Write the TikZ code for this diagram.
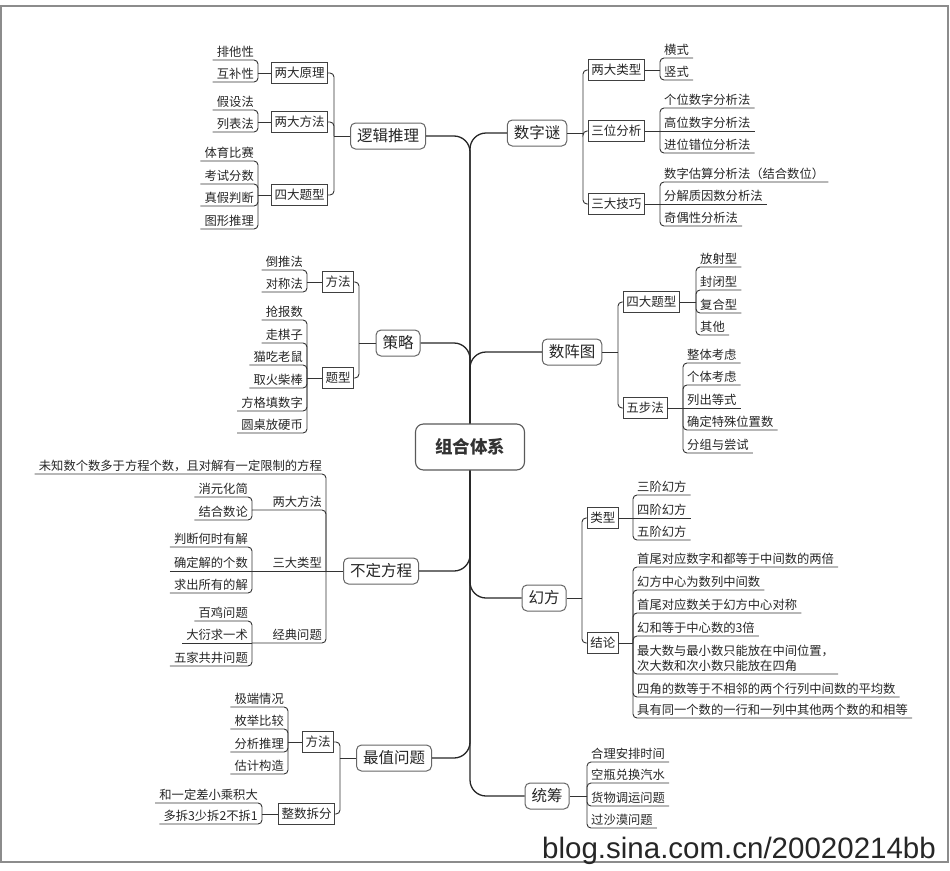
\documentclass[tikz,border=0pt]{standalone}
\usepackage{fontspec}
\setmainfont{Noto Sans CJK SC}
\newfontfamily\wmfont{Liberation Sans}
\newcommand\lffont{\fontsize{12.3}{14.5}\selectfont}
\newcommand\sbfont{\fontsize{12.5}{14}\selectfont}
\newcommand\mnfont{\fontsize{15.5}{18}\selectfont}
\newcommand\rtfont{\fontsize{17.5}{20}\selectfont\bfseries}
\begin{document}
\begin{tikzpicture}[x=1pt,y=-1pt,
  ln/.style={draw=black!80, line width=0.9pt, rounded corners=4pt},
  spn/.style={draw=black!85, line width=1.3pt, rounded corners=16pt},
  mainbox/.style={draw=black!60, line width=1pt, rounded corners=5pt, fill=white, font=\mnfont, text=black!85, minimum height=26pt, inner xsep=6.5pt, inner ysep=0pt},
  rootbox/.style={draw=black!65, line width=1.1pt, rounded corners=8pt, fill=white, font=\rtfont, text=black!80, minimum height=46pt, minimum width=109pt},
  subbox/.style={draw=black!75, line width=0.8pt, fill=white, font=\sbfont, text=black!85, minimum height=21pt, inner xsep=3pt, inner ysep=0pt},
  lfbase/.style={font=\lffont, text=black!85, inner xsep=4pt, inner ysep=2.3pt},
  lfL/.style={lfbase, anchor=south east, text height=9.5pt, text depth=1pt},
  lfR/.style={lfbase, anchor=south west, text height=9.5pt, text depth=1pt},
  lfRm/.style={lfbase, anchor=south west, align=left}
]
\useasboundingbox (0,0) rectangle (950,870);
\draw[black!45, line width=1.2pt] (1,6) rectangle (948,862);

% ---------- nodes ----------
\node[rootbox] (root) at (470,447) {组合体系};

% 逻辑推理
\node[mainbox] (lj) at (388,136) {逻辑推理};
\coordinate (ljJ) at (334,136);
\node[subbox, anchor=east] (lj1) at (328,73) {两大原理};
\node[subbox, anchor=east] (lj2) at (328,122) {两大方法};
\node[subbox, anchor=east] (lj3) at (328,195) {四大题型};
\coordinate (lj1J) at (258,73);
\node[lfL] (lj1a) at (258,60) {排他性};
\node[lfL] (lj1b) at (258,82) {互补性};
\coordinate (lj2J) at (258,122);
\node[lfL] (lj2a) at (258,110) {假设法};
\node[lfL] (lj2b) at (258,132) {列表法};
\coordinate (lj3J) at (258,195);
\node[lfL] (lj3a) at (258,161) {体育比赛};
\node[lfL] (lj3b) at (258,184) {考试分数};
\node[lfL] (lj3c) at (258,206) {真假判断};
\node[lfL] (lj3d) at (258,229) {图形推理};

% 数字谜
\node[mainbox] (sz) at (537,133) {数字谜};
\coordinate (szJ) at (583,133);
\node[subbox, anchor=west] (sz1) at (588,70) {两大类型};
\node[subbox, anchor=west] (sz2) at (588,131) {三位分析};
\node[subbox, anchor=west] (sz3) at (588,204) {三大技巧};
\coordinate (sz1J) at (660,70);
\node[lfR] (sz1a) at (660,58) {横式};
\node[lfR] (sz1b) at (660,80) {竖式};
\coordinate (sz2J) at (660,131);
\node[lfR] (sz2a) at (660,108) {个位数字分析法};
\node[lfR] (sz2b) at (660,131) {高位数字分析法};
\node[lfR] (sz2c) at (660,153) {进位错位分析法};
\coordinate (sz3J) at (660,204);
\node[lfR] (sz3a) at (660,182) {数字估算分析法（结合数位）};
\node[lfR] (sz3b) at (660,204) {分解质因数分析法};
\node[lfR] (sz3c) at (660,226) {奇偶性分析法};

% 策略
\node[mainbox] (cl) at (398,343) {策略};
\coordinate (clJ) at (359,343);
\node[subbox, anchor=east] (cl1) at (354,282) {方法};
\node[subbox, anchor=east] (cl2) at (354,378) {题型};
\coordinate (cl1J) at (307,282);
\node[lfL] (cl1a) at (307,270) {倒推法};
\node[lfL] (cl1b) at (307,292) {对称法};
\coordinate (cl2J) at (307,378);
\node[lfL] (cl2a) at (307,320) {抢报数};
\node[lfL] (cl2b) at (307,343) {走棋子};
\node[lfL] (cl2c) at (307,365) {猫吃老鼠};
\node[lfL] (cl2d) at (307,388) {取火柴棒};
\node[lfL] (cl2e) at (307,411) {方格填数字};
\node[lfL] (cl2f) at (307,433) {圆桌放硬币};

% 数阵图
\node[mainbox] (zt) at (572,352) {数阵图};
\coordinate (ztJ) at (618,352);
\node[subbox, anchor=west] (zt1) at (623,302) {四大题型};
\node[subbox, anchor=west] (zt2) at (623,408) {五步法};
\coordinate (zt1J) at (696,302);
\node[lfR] (zt1a) at (696,267) {放射型};
\node[lfR] (zt1b) at (696,290) {封闭型};
\node[lfR] (zt1c) at (696,313) {复合型};
\node[lfR] (zt1d) at (696,335) {其他};
\coordinate (zt2J) at (683,408);
\node[lfR] (zt2a) at (683,363) {整体考虑};
\node[lfR] (zt2b) at (683,385) {个体考虑};
\node[lfR] (zt2c) at (683,408) {列出等式};
\node[lfR] (zt2d) at (683,430) {确定特殊位置数};
\node[lfR] (zt2e) at (683,453) {分组与尝试};

% 不定方程
\node[mainbox] (bd) at (381,571) {不定方程};
\coordinate (bdJ) at (326,571);
\node[lfL] (bd0) at (326,474) {未知数个数多于方程个数，且对解有一定限制的方程};
\node[lfL] (bd1) at (326,510) {两大方法};
\node[lfL] (bd2) at (326,571) {三大类型};
\node[lfL] (bd3) at (326,643) {经典问题};
\coordinate (bd1J) at (252,510);
\node[lfL] (bd1a) at (252,497) {消元化简};
\node[lfL] (bd1b) at (252,520) {结合数论};
\coordinate (bd2J) at (252,571);
\node[lfL] (bd2a) at (252,547) {判断何时有解};
\node[lfL] (bd2b) at (252,571) {确定解的个数};
\node[lfL] (bd2c) at (252,593) {求出所有的解};
\coordinate (bd3J) at (252,643);
\node[lfL] (bd3a) at (252,621) {百鸡问题};
\node[lfL] (bd3b) at (252,643) {大衍求一术};
\node[lfL] (bd3c) at (252,666) {五家共井问题};

% 幻方
\node[mainbox] (hf) at (544,598) {幻方};
\coordinate (hfJ) at (582,598);
\node[subbox, anchor=west] (hf1) at (587,518) {类型};
\node[subbox, anchor=west] (hf2) at (587,643) {结论};
\coordinate (hf1J) at (633,518);
\node[lfR] (hf1a) at (633,495) {三阶幻方};
\node[lfR] (hf1b) at (633,518) {四阶幻方};
\node[lfR] (hf1c) at (633,540) {五阶幻方};
\coordinate (hf2J) at (633,643);
\node[lfR] (hf2a) at (633,567) {首尾对应数字和都等于中间数的两倍};
\node[lfR] (hf2b) at (633,590) {幻方中心为数列中间数};
\node[lfR] (hf2c) at (633,613) {首尾对应数关于幻方中心对称};
\node[lfR] (hf2d) at (633,636) {幻和等于中心数的3倍};
\node[lfRm] (hf2e) at (633,674) {最大数与最小数只能放在中间位置，\\次大数和次小数只能放在四角};
\node[lfR] (hf2f) at (633,697) {四角的数等于不相邻的两个行列中间数的平均数};
\node[lfR] (hf2g) at (633,718) {具有同一个数的一行和一列中其他两个数的和相等};

% 最值问题
\node[mainbox] (zz) at (394,758) {最值问题};
\coordinate (zzJ) at (340,758);
\node[subbox, anchor=east] (zz1) at (334,742) {方法};
\node[subbox, anchor=east] (zz2) at (335,814) {整数拆分};
\coordinate (zz1J) at (288,742);
\node[lfL] (zz1a) at (288,707) {极端情况};
\node[lfL] (zz1b) at (288,729) {枚举比较};
\node[lfL] (zz1c) at (288,752) {分析推理};
\node[lfL] (zz1d) at (288,774) {估计构造};
\coordinate (zz2J) at (262,814);
\node[lfL] (zz2a) at (262,803) {和一定差小乘积大};
\node[lfL] (zz2b) at (262,824) {多拆3少拆2不拆1};

% 统筹
\node[mainbox] (tc) at (547,796) {统筹};
\coordinate (tcJ) at (587,796);
\node[lfR] (tca) at (587,762) {合理安排时间};
\node[lfR] (tcb) at (587,783) {空瓶兑换汽水};
\node[lfR] (tcc) at (587,806) {货物调运问题};
\node[lfR] (tcd) at (587,828) {过沙漠问题};

% ---------- spine ----------
\draw[spn] (root.north) |- (lj.east);
\draw[spn] (root.north) |- (sz.west);
\draw[spn] (root.north) |- (cl.east);
\draw[spn] (root.north) |- (zt.west);
\draw[spn] (root.south) |- (bd.east);
\draw[spn] (root.south) |- (hf.west);
\draw[spn] (root.south) |- (zz.east);
\draw[spn] (root.south) |- (tc.west);

% ---------- main -> sub ----------
\draw[ln] (lj.west) -- (ljJ);
\foreach \s in {lj1,lj2,lj3} \draw[ln] (\s.east) -| (ljJ);
\draw[ln] (sz.east) -- (szJ);
\foreach \s in {sz1,sz2,sz3} \draw[ln] (\s.west) -| (szJ);
\draw[ln] (cl.west) -- (clJ);
\foreach \s in {cl1,cl2} \draw[ln] (\s.east) -| (clJ);
\draw[ln] (zt.east) -- (ztJ);
\foreach \s in {zt1,zt2} \draw[ln] (\s.west) -| (ztJ);
\draw[ln] (hf.east) -- (hfJ);
\foreach \s in {hf1,hf2} \draw[ln] (\s.west) -| (hfJ);
\draw[ln] (zz.west) -- (zzJ);
\foreach \s in {zz1,zz2} \draw[ln] (\s.east) -| (zzJ);
\draw[ln] (tc.east) -- (tcJ);
% 不定方程 (underlined sub-items)
\draw[ln] (bd.west) -- (bdJ);
\draw[ln] (bd0.south west) -- (bd0.south east) -- (bdJ);
\draw[ln] (bd1J) -- (bd1.south east) -- (bdJ);
\draw[ln] (bd2J) -- (bd2.south east);
\draw[ln] (bd3J) -- (bd3.south east) -- (bdJ);

% ---------- sub -> leaves ----------
\draw[ln] (lj1.west) -- (lj1J);
\draw[ln] (lj2.west) -- (lj2J);
\draw[ln] (lj3.west) -- (lj3J);
\foreach \n in {lj1a,lj1b} \draw[ln] (\n.south west) -- (\n.south east) -- (lj1J);
\foreach \n in {lj2a,lj2b} \draw[ln] (\n.south west) -- (\n.south east) -- (lj2J);
\foreach \n in {lj3a,lj3b,lj3c,lj3d} \draw[ln] (\n.south west) -- (\n.south east) -- (lj3J);

\draw[ln] (sz1.east) -- (sz1J);
\draw[ln] (sz2.east) -- (sz2J);
\draw[ln] (sz3.east) -- (sz3J);
\foreach \n in {sz1a,sz1b} \draw[ln] (\n.south east) -- (\n.south west) -- (sz1J);
\foreach \n in {sz2a,sz2c} \draw[ln] (\n.south east) -- (\n.south west) -- (sz2J);
\draw[ln] (sz2b.south west) -- (sz2b.south east);
\foreach \n in {sz3a,sz3c} \draw[ln] (\n.south east) -- (\n.south west) -- (sz3J);
\draw[ln] (sz3b.south west) -- (sz3b.south east);

\draw[ln] (cl1.west) -- (cl1J);
\draw[ln] (cl2.west) -- (cl2J);
\foreach \n in {cl1a,cl1b} \draw[ln] (\n.south west) -- (\n.south east) -- (cl1J);
\foreach \n in {cl2a,cl2b,cl2c,cl2d,cl2e,cl2f} \draw[ln] (\n.south west) -- (\n.south east) -- (cl2J);

\draw[ln] (zt1.east) -- (zt1J);
\draw[ln] (zt2.east) -- (zt2J);
\foreach \n in {zt1a,zt1b,zt1c,zt1d} \draw[ln] (\n.south east) -- (\n.south west) -- (zt1J);
\foreach \n in {zt2a,zt2b,zt2d,zt2e} \draw[ln] (\n.south east) -- (\n.south west) -- (zt2J);
\draw[ln] (zt2c.south west) -- (zt2c.south east);

\foreach \n in {bd1a,bd1b} \draw[ln] (\n.south west) -- (\n.south east) -- (bd1J);
\foreach \n in {bd2a,bd2c} \draw[ln] (\n.south west) -- (\n.south east) -- (bd2J);
\draw[ln] (bd2b.south west) -- (bd2b.south east);
\foreach \n in {bd3a,bd3c} \draw[ln] (\n.south west) -- (\n.south east) -- (bd3J);
\draw[ln] (bd3b.south west) -- (bd3b.south east);

\draw[ln] (hf1.east) -- (hf1J);
\draw[ln] (hf2.east) -- (hf2J);
\foreach \n in {hf1a,hf1c} \draw[ln] (\n.south east) -- (\n.south west) -- (hf1J);
\draw[ln] (hf1b.south west) -- (hf1b.south east);
\foreach \n in {hf2a,hf2b,hf2c,hf2d,hf2e,hf2f,hf2g} \draw[ln] (\n.south east) -- (\n.south west) -- (hf2J);

\draw[ln] (zz1.west) -- (zz1J);
\draw[ln] (zz2.west) -- (zz2J);
\foreach \n in {zz1a,zz1b,zz1c,zz1d} \draw[ln] (\n.south west) -- (\n.south east) -- (zz1J);
\foreach \n in {zz2a,zz2b} \draw[ln] (\n.south west) -- (\n.south east) -- (zz2J);

\foreach \n in {tca,tcb,tcc,tcd} \draw[ln] (\n.south east) -- (\n.south west) -- (tcJ);

% watermark
\node[font=\wmfont\fontsize{29.5}{30}\selectfont, text=black!85, anchor=base west, inner sep=0pt] (wm) at (542,858) {blog.sina.com.cn/20020214bb};
\end{tikzpicture}
\end{document}
